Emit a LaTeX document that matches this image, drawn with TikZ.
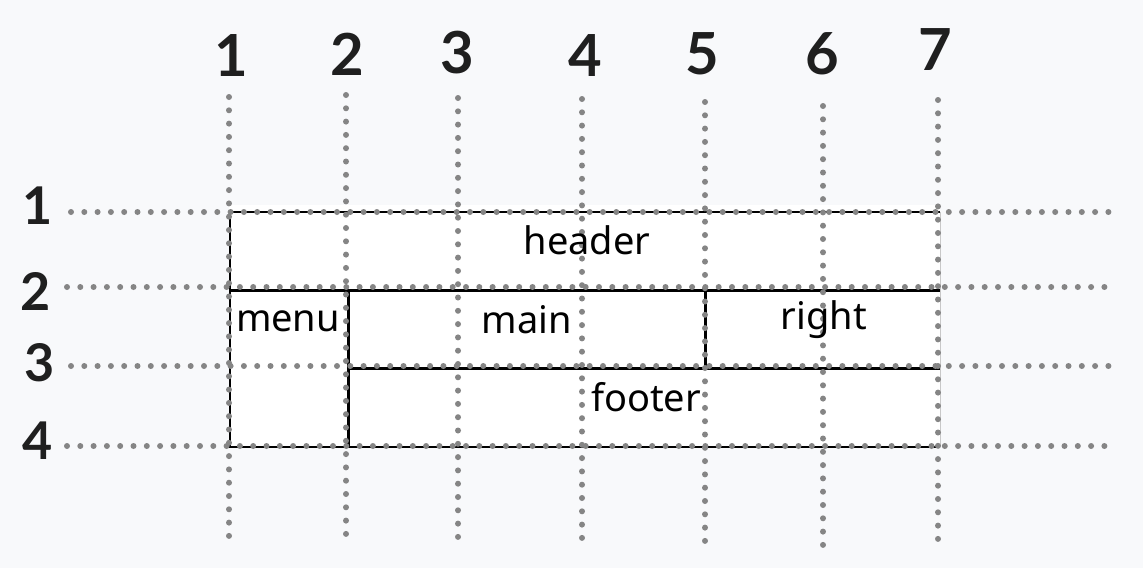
\documentclass[tikz,border=0pt]{standalone}
\usepackage{fontspec}
\usetikzlibrary{decorations.markings}
\setmainfont{Lato}
\newfontfamily\boxfont{Noto Sans}
\definecolor{bgcol}{HTML}{F8F9FB}
\definecolor{dotcol}{HTML}{858585}
\definecolor{edgecol}{HTML}{C8C8C8}
\tikzset{
  gridline/.style={decoration={markings, mark=between positions 0 and 1 step 13.3pt with {\fill[dotcol] (0,0) circle (3pt);}}, decorate},
  thinedge/.style={draw=black, line width=1.8pt},
  thickedge/.style={draw=black, line width=3pt},
  colnum/.style={font=\fontsize{58}{58}\selectfont\bfseries, text=black!88, inner sep=0pt, anchor=center},
  rownum/.style={font=\fontsize{52}{52}\selectfont\bfseries, text=black!88, inner sep=0pt, anchor=center},
  areatext/.style={font=\boxfont\fontsize{38}{38}\selectfont, text=black, inner sep=0pt, anchor=center}
}
\begin{document}
\begin{tikzpicture}[x=1pt,y=-1pt]
\fill[bgcol] (0,0) rectangle (1143,568);
\useasboundingbox (0,0) rectangle (1143,568);
\fill[white] (229,205) rectangle (940,447);
% solid area edges
\coordinate (tl) at (230,212);
\coordinate (tr) at (940,212);
\coordinate (ml) at (230,290);
\coordinate (mr) at (940,290);
\coordinate (bl) at (230,447);
\coordinate (br) at (940,447);
\coordinate (m2t) at (348,290);
\coordinate (m2b) at (348,447);
\coordinate (f3l) at (348,368);
\coordinate (f3r) at (940,368);
\coordinate (r5t) at (705,290);
\coordinate (r5b) at (705,368);
\draw[thinedge] (tl) -- (tr);
\draw[thinedge] (tl) -- (bl) -- (br);
\draw[edgecol, line width=1pt] (tr) -- (br);
\draw[thickedge] (ml) -- (mr);
\draw[thickedge] (m2t) -- (m2b);
\draw[thickedge] (f3l) -- (f3r);
\draw[thickedge] (r5t) -- (r5b);
% vertical grid lines
\coordinate (c1t) at (229,97);  \coordinate (c1b) at (229,540);
\coordinate (c2t) at (346,95);  \coordinate (c2b) at (346,540);
\coordinate (c3t) at (458,98);  \coordinate (c3b) at (458,542);
\coordinate (c4t) at (582,99);  \coordinate (c4b) at (582,544);
\coordinate (c5t) at (705,102); \coordinate (c5b) at (705,547);
\coordinate (c6t) at (823,106); \coordinate (c6b) at (823,550);
\coordinate (c7t) at (938,100); \coordinate (c7b) at (938,545);
\foreach \i in {1,...,7} {\path[gridline] (c\i t) -- (c\i b);}
% horizontal grid lines
\coordinate (r1l) at (71,212);  \coordinate (r1r) at (1110,212);
\coordinate (r2l) at (67,287);  \coordinate (r2r) at (1105,287);
\coordinate (r3l) at (71,366);  \coordinate (r3r) at (1110,366);
\coordinate (r4l) at (67,446);  \coordinate (r4r) at (1107,446);
\foreach \i in {1,...,4} {\path[gridline] (r\i l) -- (r\i r);}
% column numbers
\node[colnum] (n1) at (231,56) {1};
\node[colnum] (n2) at (347,54) {2};
\node[colnum] (n3) at (457,53) {3};
\node[colnum] (n4) at (585,56) {4};
\node[colnum] (n5) at (702,54) {5};
\node[colnum] (n6) at (822,54) {6};
\node[colnum] (n7) at (935,50) {7};
% row numbers
\node[rownum] (m1) at (38,206) {1};
\node[rownum] (m2) at (36,291) {2};
\node[rownum] (m3) at (40,363) {3};
\node[rownum] (m4) at (38,441) {4};
% area labels
\node[areatext] (header) at (587,240) {header};
\node[areatext] (menu) at (288,321) {menu};
\node[areatext] (main) at (527,320) {main};
\node[areatext] (right) at (824,320) {right};
\node[areatext] (footer) at (646,397) {footer};
\end{tikzpicture}
\end{document}
